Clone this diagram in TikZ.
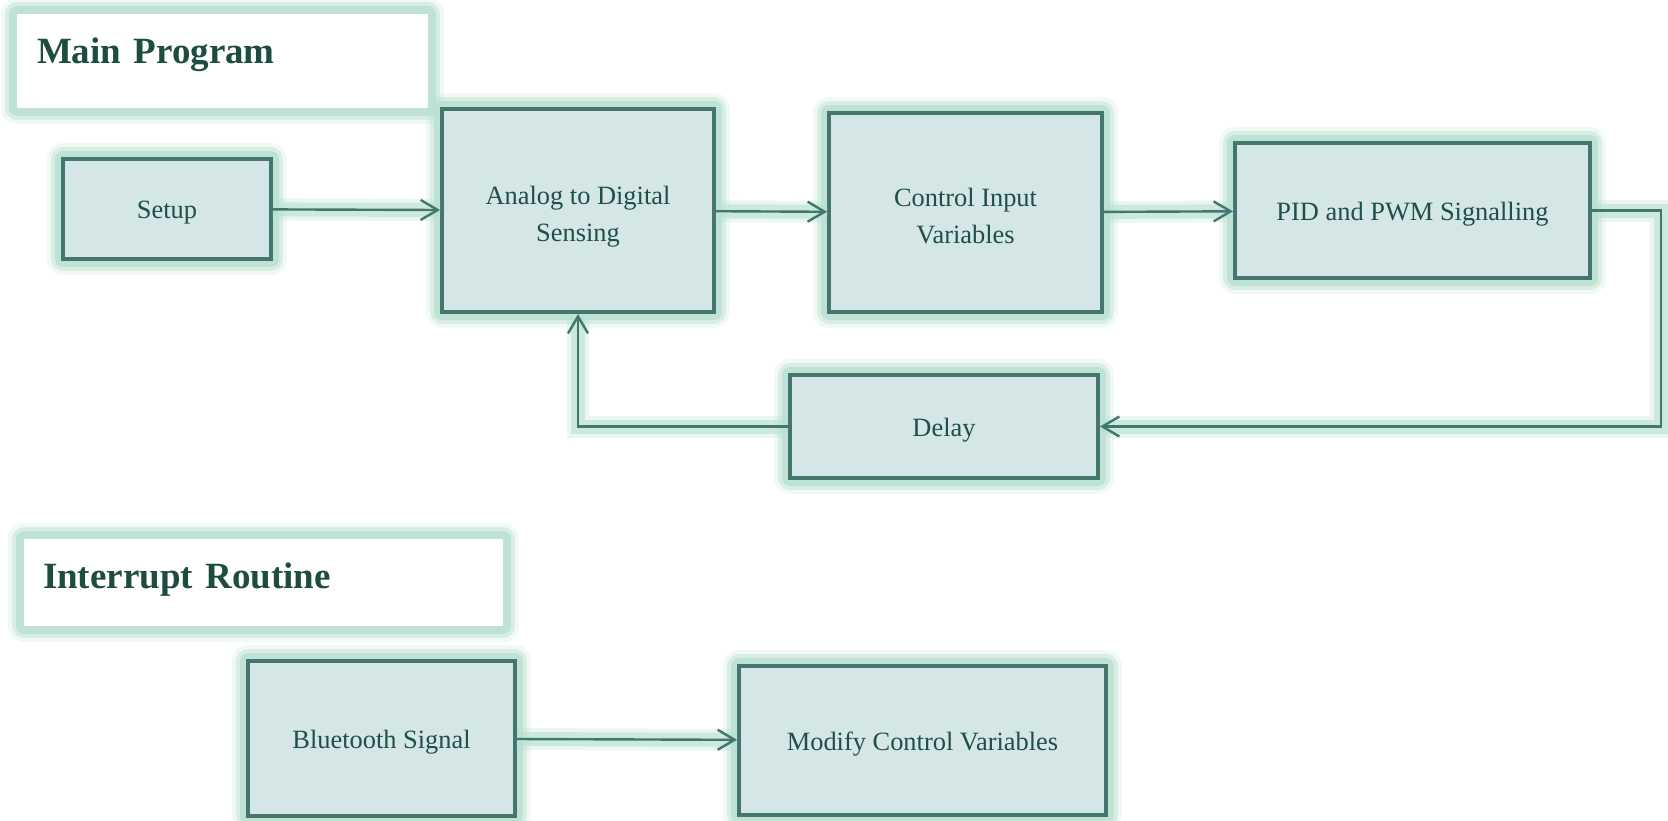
\documentclass[tikz,border=0pt]{standalone}
\usepackage{fontspec}
\setmainfont{Liberation Serif}
\usetikzlibrary{arrows.meta}

\definecolor{linec}{RGB}{68,117,111}
\definecolor{fillc}{RGB}{212,230,229}
\definecolor{glowc}{RGB}{185,225,209}
\definecolor{textc}{RGB}{31,79,71}
\definecolor{titlec}{RGB}{29,76,64}

\begin{document}
\begin{tikzpicture}[x=.5pt, y=-.5pt, >={Straight Barb[length=8.5pt,width=10pt]}]
    \tikzstyle{glow}=[preaction={draw=glowc, line width=16pt, opacity=.2, line join=round}, preaction={draw=glowc, line width=12pt, opacity=.45, line join=round}, preaction={draw=glowc, line width=8pt, opacity=.85, line join=round}]
    \tikzstyle{block}=[rectangle, draw=linec, line width=2pt, fill=fillc, text=textc, font=\fontsize{13.2}{18.5}\selectfont, align=center, inner sep=0pt, glow]
    \tikzstyle{oneline}=[text height=9.5pt, text depth=0pt]
    \tikzstyle{twoline}=[text height=33pt, text depth=2.3pt]
    \tikzstyle{title}=[rectangle, fill=white, text=titlec, font=\bfseries\fontsize{18.5}{22}\selectfont, align=left, text height=13pt, glow]
    \tikzstyle{link}=[->, draw=linec, line width=1.2pt, preaction={draw=glowc, line width=11pt, opacity=.3, -}, preaction={draw=glowc, line width=7pt, opacity=.6, -}]

    \useasboundingbox (0,0) rectangle (1668,820);

    % main program
    \node[title, text width=185.5pt, inner xsep=10pt, minimum height=47pt, text depth=11pt] (mainlabel) at (222.5,61) {Main Program};
    \node[block, oneline, minimum width=104pt, minimum height=50pt] (setup) at (167,209) {Setup};
    \node[block, twoline, minimum width=136pt, minimum height=101.5pt] (sensing) at (578,210.5) {Analog to Digital\\Sensing};
    \node[block, twoline, minimum width=136.5pt, minimum height=99.5pt] (control) at (965.5,212.5) {Control Input\\Variables};
    \node[block, oneline, minimum width=177.5pt, minimum height=67.5pt] (pid) at (1412.5,210.5) {PID and PWM Signalling};
    \node[block, oneline, minimum width=154pt, minimum height=51.5pt] (delay) at (944,426.5) {Delay};

    % interrupt routine
    \node[title, text width=220.5pt, inner xsep=9.5pt, minimum height=43.5pt, text depth=7.5pt] (interruptlabel) at (263.5,582.5) {Interrupt Routine};
    \node[block, oneline, minimum width=133.5pt, minimum height=77.5pt] (bluetooth) at (381.5,738.5) {Bluetooth Signal};
    \node[block, oneline, minimum width=183.5pt, minimum height=74.5pt] (modify) at (922.5,740.5) {Modify Control Variables};

    \draw (setup) edge[link] (sensing);
    \draw (sensing) edge[link] (control);
    \draw (control) edge[link] (pid);
    \draw[link] (pid.east) -- ++(69,0) |- (delay.east);
    \draw[link] (delay.west) -| (sensing.south);
    \draw (bluetooth) edge[link] (modify);
\end{tikzpicture}
\end{document}
